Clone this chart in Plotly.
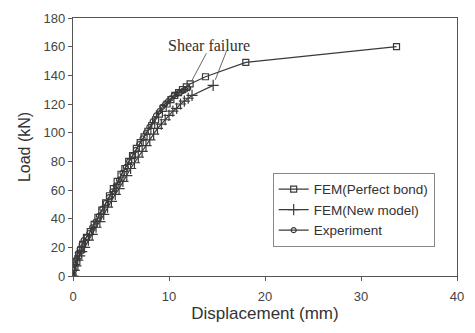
import plotly.graph_objects as go

# Load-displacement data (mm, kN)
perfect_x = [0, 0.2, 0.4, 0.6, 0.8, 1.0, 1.4, 1.8, 2.2, 2.6, 3.0, 3.4, 3.8, 4.2, 4.6, 5.0, 5.4,
             5.8, 6.2, 6.6, 7.0, 7.4, 7.8, 8.2, 8.6, 9.0, 9.4, 9.8, 10.2, 10.6, 11.0, 11.4,
             11.8, 12.2, 13.8, 18.0, 33.7]
perfect_y = [0, 6, 10, 14, 18, 22, 27, 31, 36, 41, 46, 51, 56, 61, 66, 71, 75,
             80, 84, 89, 93, 97, 101, 105, 109, 113, 117, 120, 123, 126, 128, 130,
             132, 134, 139, 149, 160]

newmodel_x = [0, 0.15, 0.3, 0.5, 0.7, 0.9, 1.2, 1.6, 2.0, 2.4, 2.8, 3.2, 3.6, 4.0, 4.4, 4.8,
              5.2, 5.6, 6.0, 6.4, 6.8, 7.2, 7.6, 8.0, 8.4, 8.8, 9.2, 9.6, 10.0, 10.4, 10.8,
              11.2, 11.6, 12.0, 12.4, 14.6]
newmodel_y = [0, 4, 7, 11, 14, 17, 20, 25, 29, 34, 38, 43, 48, 52, 57, 61,
              66, 70, 75, 79, 83, 87, 91, 95, 99, 103, 106, 109, 112, 115, 117,
              120, 122, 124, 126, 133]

exp_x = [0, 0.1, 0.2, 0.35, 0.5, 0.7, 0.9, 1.1, 1.4, 1.7, 2.0, 2.35, 2.7, 3.05, 3.4, 3.75,
         4.1, 4.45, 4.8, 5.15, 5.5, 5.85, 6.2, 6.55, 6.9, 7.25, 7.6, 7.95, 8.3, 8.65,
         9.0, 9.3, 9.6, 9.9, 10.2, 10.5, 10.8, 11.1, 11.4, 11.7, 12.0]
exp_y = [0, 4, 8, 12, 16, 19, 22, 25, 27, 30, 34, 38, 42, 47, 51, 55,
         59, 63, 67, 72, 76, 80, 84, 88, 92, 96, 100, 104, 108, 112,
         115, 118, 120, 122, 124, 126, 127, 128, 129, 130, 131]

x_ticks = [0, 10, 20, 30, 40]
y_ticks = [0, 20, 40, 60, 80, 100, 120, 140, 160, 180]

line_col = "#3a3a3a"
sans = "Liberation Sans, Arial, sans-serif"

fig = go.Figure()
fig.add_trace(go.Scatter(
    x=perfect_x, y=perfect_y, mode="lines+markers", name="FEM(Perfect bond)",
    line=dict(color=line_col, width=1.2),
    marker=dict(symbol="square-open", size=6, color=line_col, line=dict(width=1.2)),
))
fig.add_trace(go.Scatter(
    x=newmodel_x, y=newmodel_y, mode="lines+markers", name="FEM(New model)",
    line=dict(color=line_col, width=1.2),
    marker=dict(symbol="cross-thin", size=8, color=line_col, line=dict(width=1.2, color=line_col)),
))
fig.add_trace(go.Scatter(
    x=exp_x, y=exp_y, mode="lines+markers", name="Experiment",
    line=dict(color=line_col, width=1.2),
    marker=dict(symbol="circle-open", size=5, color=line_col, line=dict(width=1.2)),
))

# "Shear failure" label with pointers to the failure points
fig.add_annotation(x=0.355, y=0.935, xref="paper", yref="paper", text="Shear failure",
                   showarrow=False, font=dict(family="Liberation Serif, Times New Roman, serif",
                                              size=16, color="#333"))
fig.add_annotation(x=perfect_x[-4], y=perfect_y[-4], ax=17, ay=-32, text="",
                   showarrow=True, arrowhead=0, arrowwidth=0.9, arrowcolor="#555", standoff=3)
fig.add_annotation(x=newmodel_x[-1], y=newmodel_y[-1], ax=14, ay=-36, text="",
                   showarrow=True, arrowhead=0, arrowwidth=0.9, arrowcolor="#555", standoff=6)

axis_common = dict(showgrid=False, zeroline=False, showline=True, linecolor="#555",
                   linewidth=1.2, mirror=True, ticks="outside", ticklen=4,
                   tickcolor="#555", tickfont=dict(family=sans, size=13, color="#444"))

fig.update_xaxes(range=[0, 40], tickvals=x_ticks, title=dict(text="Displacement (mm)",
                 font=dict(family=sans, size=17, color="#333"), standoff=4),
                 ticklabelstandoff=4, **axis_common)
fig.update_yaxes(range=[0, 180], tickvals=y_ticks, title=dict(text="Load (kN)",
                 font=dict(family=sans, size=16, color="#333"), standoff=8), **axis_common)

fig.update_layout(
    width=475, height=333,
    margin=dict(l=73, r=12, t=11, b=57),
    plot_bgcolor="white", paper_bgcolor="white",
    showlegend=True,
    legend=dict(x=0.52, y=0.4, xanchor="left", yanchor="top",
                bordercolor="#888", borderwidth=1, bgcolor="white",
                font=dict(family=sans, size=13.5, color="#333"),
                tracegroupgap=0, itemwidth=30),
)

fig.write_html("out.html")
